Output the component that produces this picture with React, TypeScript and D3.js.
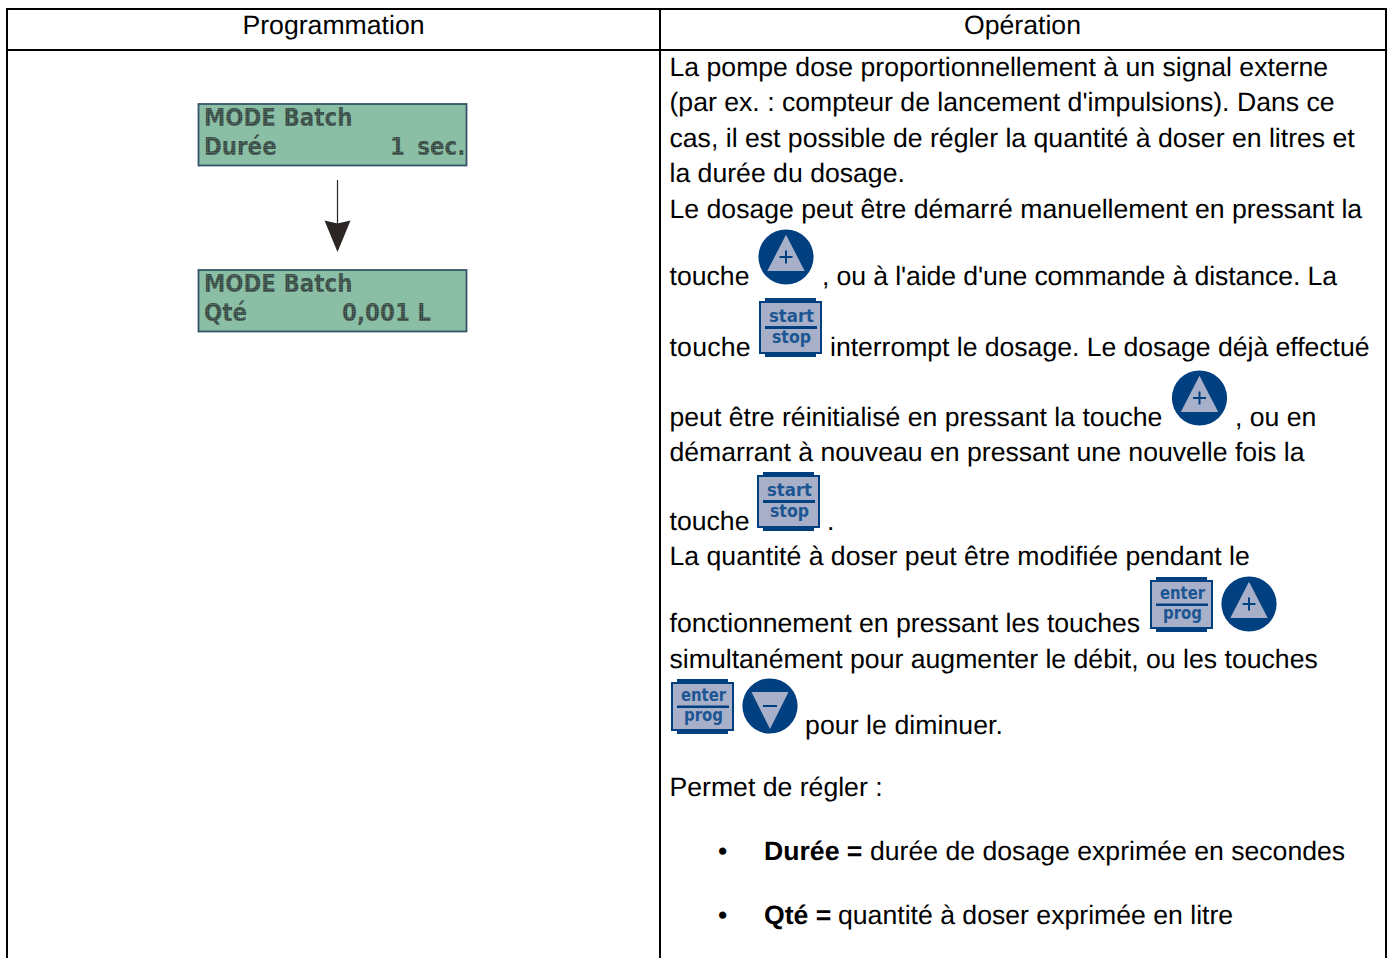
import * as d3 from "d3";

// table text
const headers = ["Programmation", "Opération"];
const bodyLines = [
  "La pompe dose proportionnellement à un signal externe",
  "(par ex. : compteur de lancement d'impulsions). Dans ce",
  "cas, il est possible de régler la quantité à doser en litres et",
  "la durée du dosage.",
  "Le dosage peut être démarré manuellement en pressant la",
  "touche",
  ", ou à l'aide d'une commande à distance. La",
  "touche",
  "interrompt le dosage. Le dosage déjà effectué",
  "peut être réinitialisé en pressant la touche",
  ", ou en",
  "démarrant à nouveau en pressant une nouvelle fois la",
  "touche",
  ".",
  "La quantité à doser peut être modifiée pendant le",
  "fonctionnement en pressant les touches",
  "simultanément pour augmenter le débit, ou les touches",
  "pour le diminuer.",
  "Permet de régler :",
];
const bodyX = [669.5, 669.5, 669.5, 669.5, 669.5, 669.5, 822, 669.5, 830, 669.5, 1235, 669.5, 669.5, 827, 669.5, 669.5, 669.5, 805, 669.5];
const bodyY = [76, 111, 147, 182, 218, 285, 285, 356, 356, 426, 426, 461, 530, 530, 565, 632, 668, 734, 796];
// the lines that run wider or narrower than the plain font
const fittedWidths: Record<number, number> = { 6: 515, 7: 81, 8: 539.5, 17: 198 };

const bulletTerms = ["Durée =", "Qté ="];
const bulletTexts = ["durée de dosage exprimée en secondes", "quantité à doser exprimée en litre"];
const bulletTextX = [870, 838];
const bulletY = [860, 924];

// keypad icons
const plusCentres = [[786, 257], [1199.5, 398], [1249, 604]];
const minusCentres = [[770, 706]];
const keyLabels = [["start", "stop"], ["start", "stop"], ["enter", "prog"], ["enter", "prog"]];
const keyOrigins = [[759, 298], [757, 472], [1150, 577], [671, 679]];

// LCD panels
const lcdTops = [104, 270];
const lcdFirstRow = ["MODE Batch", "MODE Batch"];
const lcdLeft = ["Durée", "Qté"];
const lcdRight = ["1 sec.", "0,001 L"];
const lcdRightX = [390, 342];
const lcdRightGap = [5, 0];

const navy = "#003f80";
const keyFill = "#a7afc9";
const font = "'Liberation Sans', Arial, sans-serif";
const poly = d3.line().curve(d3.curveLinearClosed);

const Round = ({ c, up }: { c: number[]; up: boolean }) => (
  <g transform={`translate(${c[0]},${c[1]})`}>
    <circle r={27.6} fill={navy} />
    <path
      d={poly(up ? [[0, -22.3], [18.7, 14], [-18.7, 14]] : [[0, 23], [18.5, -14], [-18.5, -14]]) as string}
      fill={keyFill}
    />
    <path d={up ? "M-6.5,0H6.5M0,-6.5V6.5" : "M-7,0H7"} stroke={navy} strokeWidth={2} />
  </g>
);

const Key = ({ o, labels }: { o: number[]; labels: string[] }) => {
  const isStart = labels[0] === "start";
  const h = isStart ? 59 : 55;
  const base = isStart ? [23.7, 45] : [21.5, 41.5];
  const lab = { textAnchor: "middle" as const, fontFamily: "'DejaVu Sans'", fontWeight: "bold", fontSize: 17, fill: "#1c5692", lengthAdjust: "spacingAndGlyphs" as const };
  return (
    <g transform={`translate(${o[0]},${o[1]})`}>
      <rect x={6} y={0} width={51} height={h} fill={navy} />
      <rect x={0} y={3} width={63} height={h - 6} fill={navy} />
      <rect x={2} y={5} width={59} height={h - 10} fill={keyFill} />
      <rect x={6} y={isStart ? 28 : 26.5} width={52} height={isStart ? 3 : 2.5} fill={navy} />
      <text x={32.5} y={base[0]} textLength={45} {...lab}>{labels[0]}</text>
      <text x={32.5} y={base[1]} textLength={39} {...lab}>{labels[1]}</text>
    </g>
  );
};

const LcdText = ({ x, y, t, gap = 0 }: { x: number; y: number; t: string; gap?: number }) => (
  <text
    transform={`translate(${x},${y}) scale(0.975,1.15)`}
    fontFamily="'DejaVu Sans'"
    fontWeight="bold"
    fontSize={22}
    wordSpacing={gap}
    fill="url(#lcdDots)"
  >
    {t}
  </text>
);

const Lcd = ({ i }: { i: number }) => {
  const top = lcdTops[i];
  return (
    <g>
      <rect x={198.5} y={top} width={268} height={61.5} fill="#8abfa5" stroke="#35566a" strokeWidth={1.8} />
      <LcdText x={204} y={top + 22} t={lcdFirstRow[i]} />
      <LcdText x={204} y={top + 51} t={lcdLeft[i]} />
      <LcdText x={lcdRightX[i]} y={top + 51} t={lcdRight[i]} gap={lcdRightGap[i]} />
    </g>
  );
};

export default function App() {
  return (
    <svg width={1393} height={958} style={{ position: "absolute", left: 0, top: 0, display: "block" }}>
      <defs>
        <pattern id="lcdDots" width={2} height={2} patternUnits="userSpaceOnUse">
          <rect width={2} height={2} fill="#566f66" />
          <rect width={1.4} height={1.4} fill="#2c3a37" />
        </pattern>
      </defs>
      <rect width={1393} height={958} fill="#fff" />

      {/* table rules */}
      <g stroke="#000" strokeWidth={2} fill="none">
        <path d="M7,958V8" />
        <path d="M660,958V8" />
        <path d="M1386,958V8" />
        <path d="M6,9H1387" />
        <path d="M6,50H1387" />
      </g>

      <g fontFamily={font} fontSize={26.63} fill="#000" textRendering="geometricPrecision">
        <text x={333.5} y={34} textAnchor="middle">{headers[0]}</text>
        <text x={1022.5} y={34} textAnchor="middle">{headers[1]}</text>
        {bodyLines.map((t, i) => (
          <text key={i} x={bodyX[i]} y={bodyY[i]} textLength={fittedWidths[i]}>{t}</text>
        ))}
        {bulletTerms.map((t, i) => (
          <g key={t}>
            <text x={718} y={bulletY[i]}>•</text>
            <text x={764} y={bulletY[i]} fontWeight="bold">{t}</text>
            <text x={bulletTextX[i]} y={bulletY[i]}>{bulletTexts[i]}</text>
          </g>
        ))}
      </g>

      {plusCentres.map((c, i) => <Round key={i} c={c} up />)}
      {minusCentres.map((c, i) => <Round key={i} c={c} up={false} />)}
      {keyOrigins.map((o, i) => <Key key={i} o={o} labels={keyLabels[i]} />)}

      {lcdTops.map((_, i) => <Lcd key={i} i={i} />)}

      {/* arrow between the two displays */}
      <path d="M337.5,180V226" stroke="#2b2523" strokeWidth={1.2} />
      <path d={poly([[324.5, 220.5], [337.5, 223.5], [350.5, 220.5], [337.5, 252]]) as string} fill="#2b2523" />
    </svg>
  );
}
